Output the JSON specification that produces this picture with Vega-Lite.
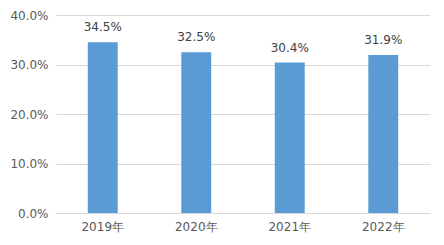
{
  "$schema": "https://vega.github.io/schema/vega-lite/v6.json",
  "autosize": {"type": "none"},
  "padding": {"left": 56, "top": 15, "right": 14, "bottom": 32},
  "width": 374,
  "height": 198,
  "background": "white",
  "config": {"view": {"stroke": null}, "font": "DejaVu Sans"},
  "data": {"values": [
    {"year": "2019年", "value": 0.345},
    {"year": "2020年", "value": 0.325},
    {"year": "2021年", "value": 0.304},
    {"year": "2022年", "value": 0.319}
  ]},
  "encoding": {
    "x": {"field": "year", "type": "nominal", "sort": null,
      "scale": {"paddingInner": 0.68, "paddingOuter": 0.34},
      "axis": {"title": null, "labelAngle": 0, "ticks": false, "domainColor": "#d9d9d9", "labelColor": "#595959", "labelFontSize": 12, "labelPadding": 8}},
    "y": {"field": "value", "type": "quantitative",
      "scale": {"domain": [0, 0.4], "nice": false},
      "axis": {"title": null, "format": ".1%", "values": [0, 0.1, 0.2, 0.3, 0.4], "labelOverlap": false, "ticks": false, "domain": false, "gridColor": "#d9d9d9", "labelColor": "#595959", "labelFontSize": 12, "labelPadding": 8}}
  },
  "layer": [
    {"mark": {"type": "bar", "color": "#5b9bd5"}},
    {"mark": {"type": "text", "dy": -8, "baseline": "bottom", "fontSize": 12, "color": "#404040"},
      "encoding": {"text": {"field": "value", "format": ".1%"}}}
  ]
}
